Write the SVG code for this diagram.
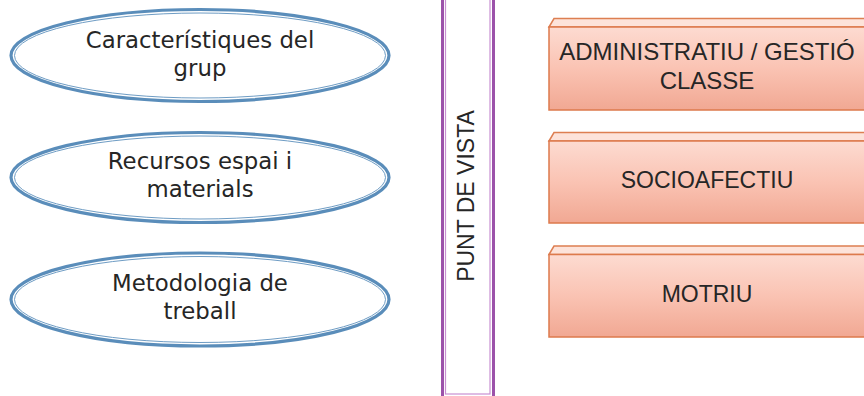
<svg xmlns="http://www.w3.org/2000/svg" width="864" height="396" viewBox="0 0 864 396">
<style>
.ell-out{fill:#ffffff;stroke:#5a8dba;stroke-width:3.2}
.ell-in{fill:none;stroke:#6e9cc4;stroke-width:1}
.etxt{font-family:"DejaVu Sans",Verdana,sans-serif;font-size:22.8px;fill:#262626;text-anchor:middle}
.btxt{font-family:"Liberation Sans",Arial,sans-serif;font-size:23px;fill:#262626;text-anchor:middle}
.top{fill:#fde3da;stroke:#dd7f52;stroke-width:1.5}
.front{fill:url(#bg);stroke:#dd7a4c;stroke-width:1.5}
</style>
<defs>
<linearGradient id="bg" x1="0" y1="0" x2="0" y2="1">
<stop offset="0" stop-color="#fddbd1"/>
<stop offset="0.5" stop-color="#fac3b3"/>
<stop offset="1" stop-color="#f1a893"/>
</linearGradient>
</defs>
<rect width="864" height="396" fill="#ffffff"/>
<g id="connectors"></g>
<g id="n1">
<ellipse class="ell-out" cx="200" cy="55.5" rx="189" ry="46"/>
<ellipse class="ell-in" cx="200" cy="55.5" rx="185.5" ry="42.5"/>
<text class="etxt" x="200" y="48">Característiques del</text>
<text class="etxt" x="200" y="76">grup</text>
</g>
<g id="n2">
<ellipse class="ell-out" cx="200" cy="177.5" rx="189" ry="45"/>
<ellipse class="ell-in" cx="200" cy="177.5" rx="185.5" ry="41.5"/>
<text class="etxt" x="200" y="169">Recursos espai i</text>
<text class="etxt" x="200" y="197">materials</text>
</g>
<g id="n3">
<ellipse class="ell-out" cx="200" cy="299.5" rx="189" ry="46.5"/>
<ellipse class="ell-in" cx="200" cy="299.5" rx="185.5" ry="43"/>
<text class="etxt" x="200" y="291">Metodologia de</text>
<text class="etxt" x="200" y="319">treball</text>
</g>
<g id="punt">
<rect x="442.5" y="-10" width="51" height="410" fill="#ffffff" stroke="#9c52aa" stroke-width="3"/>
<rect x="445.5" y="-10" width="44.5" height="404" fill="none" stroke="#c88fd2" stroke-width="1.2"/>
<text class="btxt" transform="translate(473.5,196) rotate(-90)" x="0" y="0">PUNT DE VISTA</text>
</g>
<g id="b1">
<polygon class="top" points="549,27 554,18.5 880,18.5 880,27"/>
<rect class="front" x="549" y="27" width="331" height="83"/>
<text class="btxt" x="707" y="60" style="font-size:24px">ADMINISTRATIU / GESTIÓ</text>
<text class="btxt" x="707" y="89" style="font-size:24px">CLASSE</text>
</g>
<g id="b2">
<polygon class="top" points="549,141 554,132.5 880,132.5 880,141"/>
<rect class="front" x="549" y="141" width="331" height="82"/>
<text class="btxt" x="707" y="188" style="font-size:23px">SOCIOAFECTIU</text>
</g>
<g id="b3">
<polygon class="top" points="549,254.5 554,246 880,246 880,254.5"/>
<rect class="front" x="549" y="254.5" width="331" height="82.5"/>
<text class="btxt" x="707" y="301.5" style="font-size:23px">MOTRIU</text>
</g>
</svg>
